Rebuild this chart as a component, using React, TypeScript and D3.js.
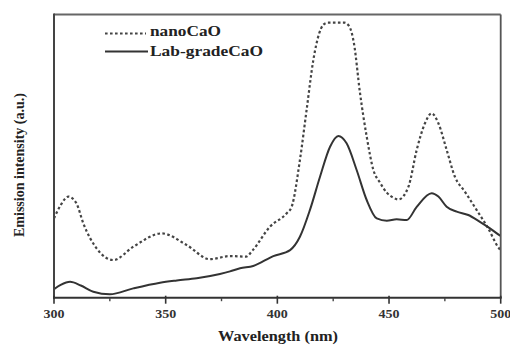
import React from "react";
import * as d3 from "d3";

const nanoWavelength = [300, 303, 306.4, 310, 313.1, 319.1, 326.6, 335.5, 348.2, 359.4, 369.8, 378.8, 386, 389, 396.7, 404.2, 406.4, 410.1, 413.1, 416.1, 418.6, 420.6, 422.5, 430, 432.2, 434.3, 437, 440, 443, 446, 449, 452, 454.2, 458.7, 462.4, 466.1, 469.1, 472.1, 475.8, 479.5, 484, 489.2, 494.4, 499.3, 500];
const nanoIntensity = [28.0, 32.7, 35.7, 33.4, 26.3, 17.4, 13.3, 18.0, 22.7, 18.6, 13.6, 14.7, 14.5, 16.8, 25.1, 29.8, 32.1, 48.6, 66.3, 83.9, 93.0, 96.4, 97.1, 97.1, 95.8, 89.8, 72.3, 56.9, 45.1, 40.6, 37.1, 35.3, 34.7, 39.2, 52.2, 61.6, 65.1, 61.6, 52.2, 42.7, 37.4, 31.0, 24.5, 17.4, 16.8];

const labWavelength = [300, 303, 307.2, 312, 317.6, 325, 335.5, 347.5, 355, 363.9, 374.3, 378.8, 383.3, 389.2, 398.2, 405.7, 410.1, 414.6, 419.1, 423.6, 427.3, 431, 435.5, 440, 444.5, 449, 453.4, 457.9, 462.4, 469.1, 472.1, 475.8, 480.3, 485.5, 490.7, 495.2, 499.4, 500];
const labIntensity = [3.0, 4.5, 5.6, 4.3, 2.1, 1.2, 3.3, 5.3, 6.1, 6.9, 8.4, 9.3, 10.4, 11.2, 14.7, 16.8, 21.5, 31.0, 42.7, 53.3, 57.1, 54.5, 45.1, 34.5, 28.0, 27.2, 27.7, 27.4, 32.1, 36.9, 35.7, 32.1, 30.4, 29.2, 26.8, 24.5, 22.1, 21.8];

const majorTicks = [300, 350, 400, 450, 500];
const minorTicks = [325, 375, 425, 475];
const legendLabels = ["nanoCaO", "Lab-gradeCaO"];
const xTitle = "Wavelength (nm)";
const yTitle = "Emission intensity (a.u.)";

const W = 510, H = 345;
const L = 54, R = 500.7, T = 14.5, B = 297.7;
const FONT = "'Liberation Serif', 'Times New Roman', serif";

export default function App() {
  const x = d3.scaleLinear().domain([300, 500]).range([L, R]);
  const y = d3.scaleLinear().domain([0, 100]).range([B, T]);
  const line = d3
    .line<[number, number]>()
    .x((d) => x(d[0]))
    .y((d) => y(d[1]))
    .curve(d3.curveMonotoneX);
  const nanoPath = line(nanoWavelength.map((w, i) => [w, nanoIntensity[i]]) as [number, number][]) || "";
  const labPath = line(labWavelength.map((w, i) => [w, labIntensity[i]]) as [number, number][]) || "";

  return (
    <svg width={W} height={H} style={{ position: "absolute", left: 0, top: 0, background: "#fff" }} fontFamily={FONT}>
      <defs>
        <clipPath id="plot">
          <rect x={L} y={T} width={R - L} height={B - T} />
        </clipPath>
      </defs>
      <g clipPath="url(#plot)">
        <path d={nanoPath} fill="none" stroke="#444" strokeWidth={2.2} strokeDasharray="2.6,2.4" />
        <path d={labPath} fill="none" stroke="#333" strokeWidth={2} />
      </g>
      <line x1={L} y1={T} x2={R} y2={T} stroke="#666" strokeWidth={2} />
      <line x1={R} y1={T} x2={R} y2={B} stroke="#555" strokeWidth={1.8} />
      <line x1={L} y1={T - 1} x2={L} y2={B + 1} stroke="#444" strokeWidth={2} />
      <line x1={L - 1} y1={B} x2={R + 1} y2={B} stroke="#333" strokeWidth={2} />
      {majorTicks.map((t) => (
        <line key={"M" + t} x1={x(t)} x2={x(t)} y1={B - 2} y2={B + 6} stroke="#333" strokeWidth={1.6} />
      ))}
      {minorTicks.map((t) => (
        <line key={"m" + t} x1={x(t)} x2={x(t)} y1={B} y2={B + 3.5} stroke="#444" strokeWidth={1.4} />
      ))}
      {majorTicks.map((t) => (
        <text key={"l" + t} x={x(t)} y={317.5} textAnchor="middle" fontSize={12} fontWeight="bold" fill="#333"
          textLength={21} lengthAdjust="spacingAndGlyphs">
          {t}
        </text>
      ))}
      <text x={278} y={340.5} textAnchor="middle" fontSize={14} fontWeight="bold" fill="#222"
        textLength={120} lengthAdjust="spacingAndGlyphs">
        {xTitle}
      </text>
      <text transform="translate(23.5,165) rotate(-90)" textAnchor="middle" fontSize={14} fontWeight="bold" fill="#222"
        textLength={144} lengthAdjust="spacingAndGlyphs">
        {yTitle}
      </text>
      <line x1={105} x2={146} y1={33.5} y2={33.5} stroke="#444" strokeWidth={2} strokeDasharray="2.6,2.4" />
      <line x1={105} x2={148} y1={51.5} y2={51.5} stroke="#333" strokeWidth={2} />
      <text x={150} y={36} fontSize={14.5} fontWeight="bold" fill="#222" textLength={71} lengthAdjust="spacingAndGlyphs">
        {legendLabels[0]}
      </text>
      <text x={150} y={56} fontSize={14.5} fontWeight="bold" fill="#222" textLength={113} lengthAdjust="spacingAndGlyphs">
        {legendLabels[1]}
      </text>
    </svg>
  );
}
